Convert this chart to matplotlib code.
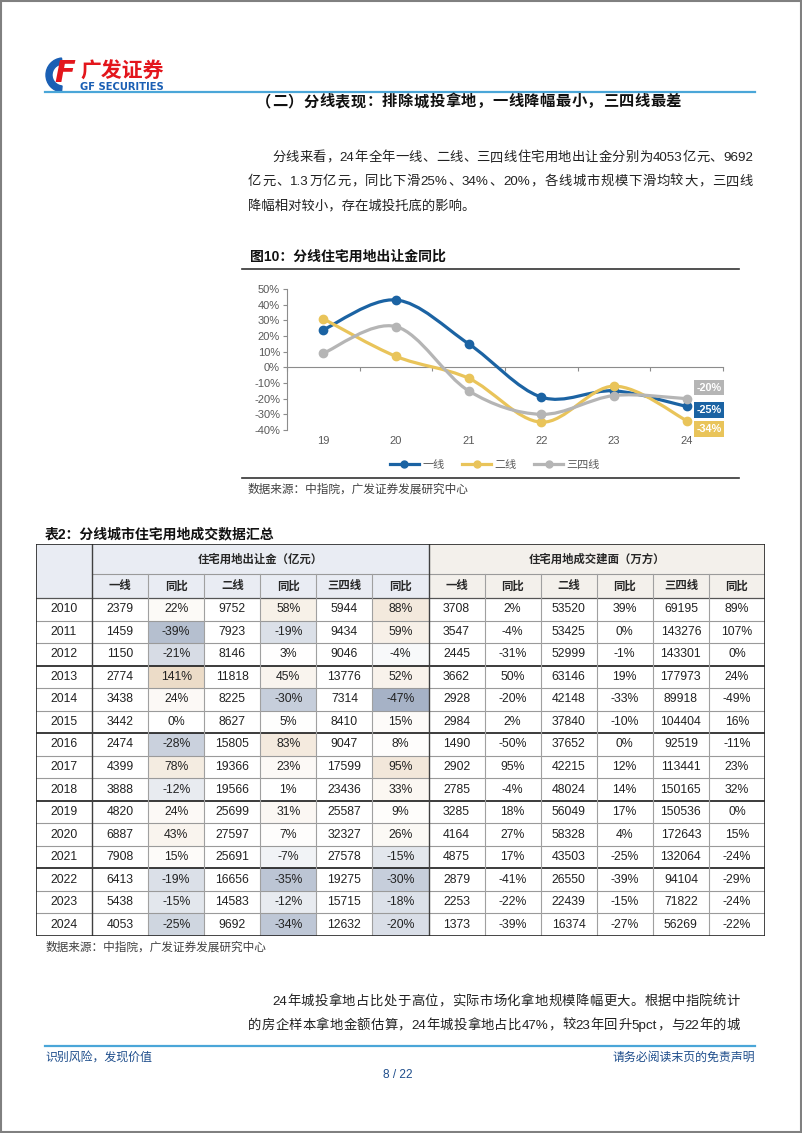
import re
import numpy as np
import matplotlib
matplotlib.use("Agg")
from matplotlib import pyplot as plt
from matplotlib.path import Path
from matplotlib.patches import PathPatch, Rectangle, Wedge
from matplotlib.lines import Line2D
from matplotlib.colors import LinearSegmentedColormap, TwoSlopeNorm

plt.rcParams['font.family'] = ['Liberation Sans', 'Noto Sans CJK SC', 'DejaVu Sans']

W, H = 802, 1133

# ---- chart data (图10) ----
chart_years = ['19', '20', '21', '22', '23', '24']
yoy_t1 = [24, 43, 15, -19, -15, -25]
yoy_t2 = [31, 7, -7, -35, -12, -34]
yoy_t34 = [9, 26, -15, -30, -18, -20]
series_names = ['一线', '二线', '三四线']
series_colors = ['#1b63a3', '#e9c45a', '#b5b5b5']

# ---- table data (表2) ----
years = list(range(2010, 2025))
land_t1 = [2379, 1459, 1150, 2774, 3438, 3442, 2474, 4399, 3888, 4820, 6887, 7908, 6413, 5438, 4053]
land_t1_yoy = [22, -39, -21, 141, 24, 0, -28, 78, -12, 24, 43, 15, -19, -15, -25]
land_t2 = [9752, 7923, 8146, 11818, 8225, 8627, 15805, 19366, 19566, 25699, 27597, 25691, 16656, 14583, 9692]
land_t2_yoy = [58, -19, 3, 45, -30, 5, 83, 23, 1, 31, 7, -7, -35, -12, -34]
land_t34 = [5944, 9434, 9046, 13776, 7314, 8410, 9047, 17599, 23436, 25587, 32327, 27578, 19275, 15715, 12632]
land_t34_yoy = [88, 59, -4, 52, -47, 15, 8, 95, 33, 9, 26, -15, -30, -18, -20]
area_t1 = [3708, 3547, 2445, 3662, 2928, 2984, 1490, 2902, 2785, 3285, 4164, 4875, 2879, 2253, 1373]
area_t1_yoy = [2, -4, -31, 50, -20, 2, -50, 95, -4, 18, 27, 17, -41, -22, -39]
area_t2 = [53520, 53425, 52999, 63146, 42148, 37840, 37652, 42215, 48024, 56049, 58328, 43503, 26550, 22439, 16374]
area_t2_yoy = [39, 0, -1, 19, -33, -10, 0, 12, 14, 17, 4, -25, -39, -15, -27]
area_t34 = [69195, 143276, 143301, 177973, 89918, 104404, 92519, 113441, 150165, 150536, 172643, 132064, 94104, 71822, 56269]
area_t34_yoy = [89, 107, 0, 24, -49, 16, -11, 23, 32, 0, 15, -24, -29, -24, -22]
sub_headers = ['一线', '同比', '二线', '同比', '三四线', '同比']
group_headers = ['住宅用地出让金（亿元）', '住宅用地成交建面（万方）']

fig = plt.figure(figsize=(W / 100, H / 100), dpi=100)


def fx(x):
    return x / W


def fy(y):
    return 1 - y / H


def justify(line, x0, x1, y, size, **kw):
    # spread the pieces of one line evenly between x0 and x1 (baseline aligned)
    tokens = re.findall(r'[A-Za-z0-9.%/]+|.', line)
    base = y + size * 0.3
    texts = [fig.text(0, fy(base), t, fontsize=size, va='baseline', ha='left', **kw) for t in tokens]
    r = fig.canvas.get_renderer()
    widths = [t.get_window_extent(r).width for t in texts]
    gap = (x1 - x0 - sum(widths)) / (len(tokens) - 1)
    x = x0
    for t, w in zip(texts, widths):
        t.set_x(fx(x))
        x += w + gap


# page border
fig.add_artist(Rectangle((0.001, 0.001), 0.998, 0.998, transform=fig.transFigure,
                         fill=False, ec='#808080', lw=1.5))

# logo
lax = fig.add_axes([fx(44), fy(93), fx(36), 38 / H])
lax.set_xlim(0, 36)
lax.set_ylim(0, 38)
lax.axis('off')
lax.add_patch(Wedge((19, 18), 17, 95, 265, width=6, color='#1a5fb4'))
lax.text(21, 19, 'F', color='#e3161c', fontsize=22, fontweight='bold', style='italic',
         ha='center', va='center', family='DejaVu Sans')
fig.text(fx(80), fy(71), '广发证券', color='#e3161c', fontsize=15, fontweight='bold',
         va='center', family=['Noto Sans CJK SC'])
fig.text(fx(80), fy(87), 'GF SECURITIES', color='#1a5fb4', fontsize=7.2, fontweight='bold',
         va='center', family=['DejaVu Sans'])

# header / footer rules
for yy in (92, 1046):
    fig.add_artist(Line2D([fx(45), fx(755)], [fy(yy), fy(yy)], color='#4aa6d8', lw=1.6))

justify('（二）分线表现：排除城投拿地，一线降幅最小，三四线最差', 256, 681, 103, 11,
        fontweight='bold', color='#111111')

justify('分线来看，24年全年一线、二线、三四线住宅用地出让金分别为4053亿元、9692', 272, 753, 158, 9.6, color='#222222')
justify('亿元、1.3万亿元，同比下滑25%、34%、20%，各线城市规模下滑均较大，三四线', 248, 753, 182, 9.6, color='#222222')
fig.text(fx(248), fy(207), '降幅相对较小，存在城投托底的影响。', fontsize=9.6, va='center', color='#222222')

# ---- chart ----
fig.text(fx(250), fy(257), '图10：分线住宅用地出让金同比', fontsize=10, fontweight='bold',
         va='center', color='#111111')
for yy in (269, 478):
    fig.add_artist(Line2D([fx(242), fx(739)], [fy(yy), fy(yy)], color='#333333', lw=1.2))

ax = fig.add_axes([fx(287), fy(430), fx(723) - fx(287), 141 / H])
x = np.arange(len(chart_years))
ax.set_xlim(-0.5, len(chart_years) - 0.5)
ax.set_ylim(-40, 50)
ax.set_yticks(range(-40, 51, 10))
ax.set_yticklabels([f'{v}%' for v in range(-40, 51, 10)])
ax.tick_params(axis='y', length=3, color='#8c8c8c', labelsize=8, labelcolor='#595959', pad=2)
for s in ('top', 'right'):
    ax.spines[s].set_visible(False)
ax.spines['left'].set_color('#8c8c8c')
ax.spines['bottom'].set_position(('data', 0))
ax.spines['bottom'].set_color('#8c8c8c')
ax.set_xticks(np.arange(-0.5, len(chart_years), 1.0))
ax.set_xticklabels([])
ax.tick_params(axis='x', length=3, color='#8c8c8c', direction='out')
for xi, lab in zip(x, chart_years):
    ax.text(xi, -0.08, lab, transform=ax.get_xaxis_transform(), ha='center', va='center',
            fontsize=8, color='#595959')


def smooth_path(xs, ys):
    pts = np.column_stack([xs, ys]).astype(float)
    n = len(pts)
    verts = [pts[0]]
    codes = [Path.MOVETO]
    for i in range(n - 1):
        p0 = pts[max(i - 1, 0)]
        p1 = pts[i]
        p2 = pts[i + 1]
        p3 = pts[min(i + 2, n - 1)]
        verts += [p1 + (p2 - p0) / 6, p2 - (p3 - p1) / 6, p2]
        codes += [Path.CURVE4] * 3
    return Path(verts, codes)


all_series = [yoy_t1, yoy_t2, yoy_t34]
draw_order = [2, 1, 0]
for i in draw_order:
    vals = all_series[i]
    ax.add_patch(PathPatch(smooth_path(x, vals), fill=False, ec=series_colors[i], lw=2.3,
                           capstyle='round', zorder=3 + i))
    ax.plot(x, vals, 'o', color=series_colors[i], ms=6, zorder=3 + i)

label_offsets = [(16, -2.5), (16, -6), (16, 8)]
for i, vals in enumerate(all_series):
    ax.annotate(f'{vals[-1]}%', (x[-1], vals[-1]), xytext=label_offsets[i], textcoords='offset points',
                ha='center', va='center', fontsize=7.8, fontweight='bold', color='white',
                bbox=dict(boxstyle='square,pad=0.25', fc=series_colors[i], ec='none'),
                annotation_clip=False, zorder=10)

handles = [Line2D([], [], color=c, lw=2.3, marker='o', ms=5) for c in series_colors]
leg = fig.legend(handles, series_names, loc='center', bbox_to_anchor=(fx(495), fy(465)), ncol=3,
                 frameon=False, fontsize=8, handlelength=2.6, handletextpad=0.3, columnspacing=1.6)
for t in leg.get_texts():
    t.set_color('#595959')

fig.text(fx(248), fy(490), '数据来源：中指院，广发证券发展研究中心', fontsize=8.4, va='center', color='#404040')

# ---- table ----
fig.text(fx(45), fy(534), '表2：分线城市住宅用地成交数据汇总', fontsize=10, fontweight='bold',
         va='center', color='#111111')

tax = fig.add_axes([fx(36), fy(936), fx(765) - fx(36), (936 - 544) / H])
tax.set_xlim(0, 13)
tax.set_ylim(392, 0)
tax.axis('off')
h1, h2 = 30, 24
row_h = (392 - h1 - h2) / len(years)

tax.add_patch(Rectangle((0, 0), 7, h1 + h2, fc='#e9ecf3', ec='none'))
tax.add_patch(Rectangle((7, 0), 6, h1 + h2, fc='#f3f0eb', ec='none'))

land_cols = [land_t1, land_t1_yoy, land_t2, land_t2_yoy, land_t34, land_t34_yoy]
area_cols = [area_t1, area_t1_yoy, area_t2, area_t2_yoy, area_t34, area_t34_yoy]
cmap = LinearSegmentedColormap.from_list('hm', ['#a6b2c6', '#ffffff', '#ecdcc8'])
yoy_all = land_t1_yoy + land_t2_yoy + land_t34_yoy
norm = TwoSlopeNorm(vmin=min(yoy_all), vcenter=0, vmax=max(yoy_all))

for gi, g in enumerate(group_headers):
    tax.text(1 + 6 * gi + 3, h1 / 2, g, ha='center', va='center', fontsize=8.2, fontweight='bold', color='#262626')
    for ci, s in enumerate(sub_headers):
        tax.text(1 + 6 * gi + ci + 0.5, h1 + h2 / 2, s, ha='center', va='center', fontsize=8.2,
                 fontweight='bold', color='#262626')

for r, yr in enumerate(years):
    yc = h1 + h2 + (r + 0.5) * row_h
    tax.text(0.5, yc, str(yr), ha='center', va='center', fontsize=8.8, color='#222222')
    for gi, cols in enumerate([land_cols, area_cols]):
        for ci, col in enumerate(cols):
            c = 1 + 6 * gi + ci
            v = col[r]
            if ci % 2 == 1:
                txt = f'{v}%'
                if gi == 0:
                    tax.add_patch(Rectangle((c, yc - row_h / 2), 1, row_h, fc=cmap(norm(v)), ec='none'))
            else:
                txt = str(v)
            tax.text(c + 0.5, yc, txt, ha='center', va='center', fontsize=8.8, color='#222222', zorder=3)

# grid lines
tax.plot([1, 13], [h1, h1], color='#9a9a9a', lw=0.8)
tax.plot([0, 13], [h1 + h2, h1 + h2], color='#555555', lw=0.9)
for r in range(1, len(years)):
    yy = h1 + h2 + r * row_h
    if r % 3 == 0:
        tax.plot([0, 13], [yy, yy], color='#1a1a1a', lw=1.2, zorder=4)
    else:
        tax.plot([0, 13], [yy, yy], color='#9a9a9a', lw=0.8, zorder=4)
for c in range(1, 13):
    if c in (1, 7):
        tax.plot([c, c], [0, 392], color='#404040', lw=1.0, zorder=4)
    else:
        tax.plot([c, c], [h1, 392], color='#a0a0a0', lw=0.8, zorder=4)
tax.add_patch(Rectangle((0, 0), 13, 392, fill=False, ec='#262626', lw=1.2, zorder=5))

fig.text(fx(45), fy(948), '数据来源：中指院，广发证券发展研究中心', fontsize=8.4, va='center', color='#404040')

justify('24年城投拿地占比处于高位，实际市场化拿地规模降幅更大。根据中指院统计', 272, 740, 1002, 9.6, color='#222222')
justify('的房企样本拿地金额估算，24年城投拿地占比47%，较23年回升5pct，与22年的城', 248, 740, 1026, 9.6, color='#222222')

# footer
fig.text(fx(45), fy(1058), '识别风险，发现价值', fontsize=8.6, va='center', color='#1f4e8c')
fig.text(fx(755), fy(1058), '请务必阅读末页的免责声明', fontsize=8.6, va='center', ha='right', color='#1f4e8c')
fig.text(fx(398), fy(1075), '8 / 22', fontsize=8.6, va='center', ha='center', color='#1f4e8c')

fig.savefig('out.png', dpi=100)
